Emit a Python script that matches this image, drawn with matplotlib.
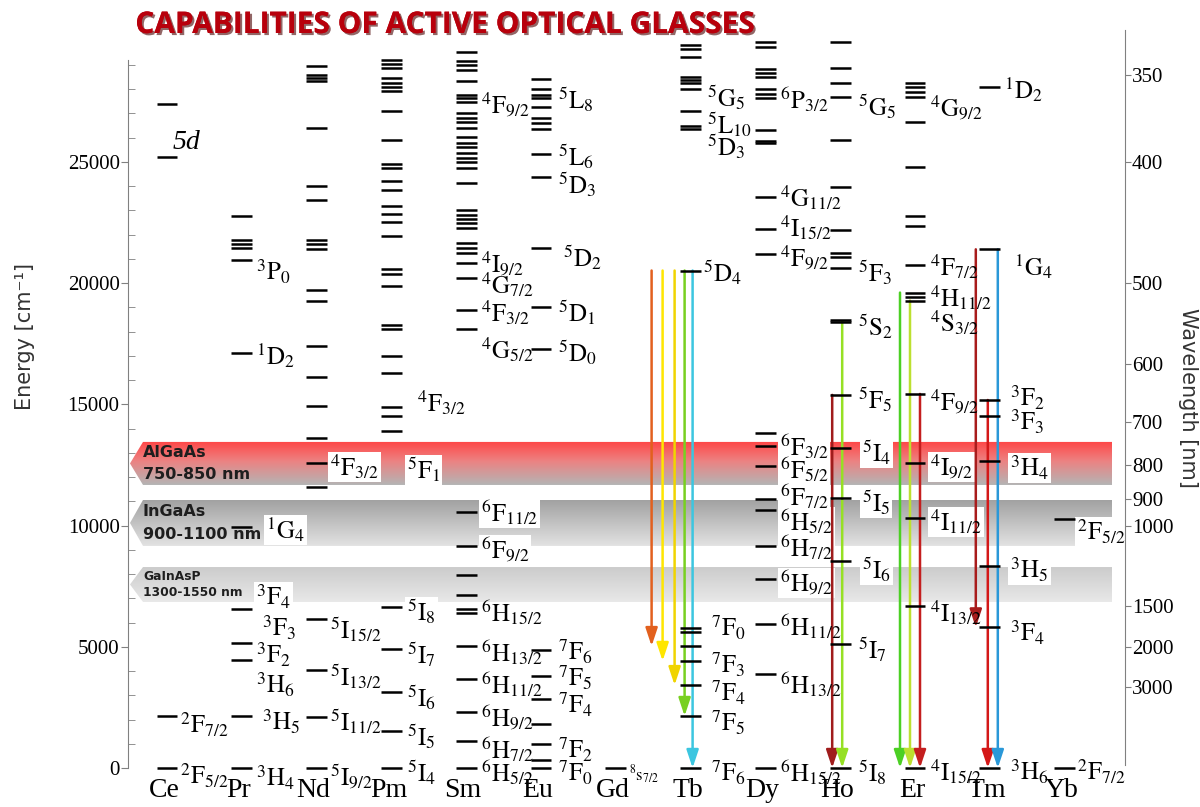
import numpy as np
import matplotlib.pyplot as plt
from matplotlib.patches import Polygon, Rectangle
import matplotlib.patheffects as pe

plt.rcParams['mathtext.fontset'] = 'stix'
plt.rcParams['font.family'] = ['Liberation Serif', 'DejaVu Serif']

elements = ['Ce', 'Pr', 'Nd', 'Pm', 'Sm', 'Eu', 'Gd', 'Tb', 'Dy', 'Ho', 'Er', 'Tm', 'Yb']

# energy levels in cm-1
ce_levels = [0, 2150, 25200, 27400]
pr_levels = [0, 2145, 4455, 5160, 6560, 9940, 17120, 20955, 21450, 21615, 21780, 22770]
nd_levels = [0, 2120, 4040, 6140, 11600, 12570, 13625, 14930, 16140, 17420, 19280, 19700,
             21410, 21615, 21800, 23430, 23990, 26420, 28340, 28460, 28590, 28960]
pm_levels = [0, 1530, 3135, 4910, 6640, 13910, 14530, 14880, 16280, 17010, 18110, 18290,
             19870, 20380, 20580, 21960, 22510, 22850, 23170, 23840, 24230, 24740, 24915,
             25920, 27110, 27910, 28080, 28260, 28450, 28860, 29040, 29220]
sm_levels = [0, 1110, 2320, 3660, 5030, 6390, 6560, 7140, 7960, 9160, 10570, 18090, 18910,
             20200, 20820, 21260, 21440, 21640, 22260, 22470, 22630, 22810, 23020, 24140,
             24740, 25010, 25180, 25360, 25620, 25790, 26040, 26410, 26660, 26800, 27010,
             27485, 27625, 27760, 28350, 28790, 29000, 29180, 29550]
eu_levels = [0, 330, 990, 1800, 2830, 3795, 4870, 17285, 19030, 21460, 24370, 25315, 26350,
             26620, 26800, 27255, 27625, 27780, 27990, 28410]
gd_levels = [0]
tb_levels = [0, 2145, 3420, 4415, 5030, 5610, 5760, 20520, 26350, 26480, 27110, 28000, 28240,
             28380, 28490, 29340, 29650, 29820]
dy_levels = [0, 3880, 5940, 7780, 9170, 10640, 11095, 12470, 13295, 13810, 21200, 22220,
             23540, 25795, 25880, 26320, 27625, 27800, 27995, 28490, 28680, 28820, 29750, 29960]
ho_levels = [0, 5100, 8550, 11150, 13210, 15390, 18380, 18480, 20610, 21080, 21245, 22190,
             23970, 25885, 27680, 28245, 28860, 29960]
er_levels = [0, 6680, 10300, 12590, 15430, 19280, 19445, 19610, 20750, 22360, 22770, 24780,
             26640, 27690, 27900, 28080, 28240]
tm_levels = [0, 5800, 8330, 12675, 14520, 15180, 21395, 28080]
yb_levels = [0, 10260]
levels = [ce_levels, pr_levels, nd_levels, pm_levels, sm_levels, eu_levels, gd_levels,
          tb_levels, dy_levels, ho_levels, er_levels, tm_levels, yb_levels]

# term labels: (multiplicity + letter + J, energy where the label sits)
ce_terms = [('2F7/2', 1770), ('2F5/2', -330)]
pr_terms = [('3P0', 20460), ('1D2', 16995), ('1G4', 9820), ('3F4', 7050), ('3F3', 5775),
            ('3F2', 4660), ('3H6', 3425), ('3H5', 1900), ('3H4', -410)]
nd_terms = [('4F3/2', 12420), ('5I15/2', 5690), ('5I13/2', 3750), ('5I11/2', 1900),
            ('5I9/2', -370)]
pm_terms = [('4F3/2', 15060), ('5F1', 12290), ('5I8', 6435), ('5I7', 4660), ('5I6', 2890),
            ('5I5', 1280), ('5I4', -200)]
sm_terms = [('4F9/2', 27350), ('4I9/2', 20780), ('4G7/2', 19920), ('4F3/2', 18770),
            ('4G5/2', 17240), ('6F11/2', 10520), ('6F9/2', 8990), ('6H15/2', 6390),
            ('6H13/2', 4740), ('6H11/2', 3420), ('6H9/2', 2060), ('6H7/2', 740),
            ('6H5/2', -210)]
eu_terms = [('5L8', 27555), ('5L6', 25200), ('5D3', 24050), ('5D2', 21040), ('5D1', 18770),
            ('5D0', 17120), ('7F6', 4785), ('7F5', 3710), ('7F4', 2600), ('7F2', 740),
            ('7F0', -210)]
gd_terms = [('8s7/2', -290)]
tb_terms = [('5G5', 27640), ('5L10', 26520), ('5D3', 25615), ('5D4', 20420), ('7F0', 5775),
            ('7F3', 4250), ('7F4', 3090), ('7F5', 1855), ('7F6', -210)]
dy_terms = [('6P3/2', 27555), ('4G11/2', 23510), ('4I15/2', 22275), ('4F9/2', 21040),
            ('6F3/2', 13240), ('6F5/2', 12290), ('6F7/2', 11180), ('6H5/2', 10150),
            ('6H7/2', 9075), ('6H9/2', 7630), ('6H11/2', 5815), ('6H13/2', 3420),
            ('6H15/2', -210)]
ho_terms = [('5G5', 27270), ('5F3', 20420), ('5S2', 18190), ('5F5', 15180), ('5I4', 12990),
            ('5I5', 10930), ('5I6', 8170), ('5I7', 4870), ('5I8', -210)]
er_terms = [('4G9/2', 27225), ('4F7/2', 20670), ('4H11/2', 19390), ('4S3/2', 18355),
            ('4F9/2', 15100), ('4I9/2', 12420), ('4I11/2', 10150), ('4I13/2', 6390),
            ('4I15/2', -170)]
tm_terms = [('1D2', 27970), ('1G4', 20670), ('3F2', 15260), ('3F3', 14270), ('3H4', 12375),
            ('3H5', 8170), ('3F4', 5570), ('3H6', -170)]
yb_terms = [('2F5/2', 9735), ('2F7/2', -170)]
terms = [ce_terms, pr_terms, nd_terms, pm_terms, sm_terms, eu_terms, gd_terms, tb_terms,
         dy_terms, ho_terms, er_terms, tm_terms, yb_terms]

# emission transitions drawn as arrows
trans_elem = ['Tb', 'Tb', 'Tb', 'Tb', 'Tb', 'Ho', 'Ho', 'Er', 'Er', 'Er', 'Tm', 'Tm', 'Tm']
trans_upper = [20520, 20520, 20520, 20520, 20520, 15390, 18430, 19610, 19280, 15430,
               21395, 15180, 21395]
trans_lower = [5030, 4415, 3420, 2145, 0, 0, 0, 0, 0, 0, 5800, 0, 0]

# laser diode bands
band_names = ['AlGaAs', 'InGaAs', 'GaInAsP']
band_ranges = ['750-850 nm', '900-1100 nm', '1300-1550 nm']
band_top = [13450, 11055, 8290]
band_bottom = [11675, 9160, 6850]

wl_ticks = [350, 400, 500, 600, 700, 800, 900, 1000, 1500, 2000, 3000]

# ---- style ----
PX = 74.8          # pixels per element column
HALF = 0.14        # half width of a level line
trans_colors = ['#e2601e', '#ffe600', '#f0d400', '#78d020', '#3cc6e0',
                '#a01c1c', '#96e024', '#4cd024', '#bce030', '#c41e1e',
                '#a81c1c', '#d41818', '#2a98d8']
trans_dx = [-39, -28, -16, -6, 2, -8, 2, -15, -5, 5, -14, -2, 8]
label_gap = [3, 4, 3, 5, 4, 7, 3, 6, 4, 7, 5, 10, 2]
label_extra = {(1, '1G4'): 10, (1, '3F3'): 6, (1, '3H5'): 6, (3, '4F3/2'): 10,
               (5, '5D2'): 5, (7, '5D4'): -4, (7, '7F0'): 4, (7, '7F3'): 4, (7, '7F4'): 4,
               (7, '7F5'): 4, (7, '7F6'): 4, (9, '5I4'): 4, (9, '5I5'): 4, (9, '5I6'): 4,
               (11, '1D2'): -6, (11, '1G4'): 4}
band_stops = [[(0.0, '#ff4646'), (0.45, '#ec8282'), (1.0, '#b4b4b4')],
              [(0.0, '#a2a2a2'), (1.0, '#e2e2e2')],
              [(0.0, '#cccccc'), (1.0, '#e8e8e8')]]


def term(code):
    return r'$^{%s}\mathrm{%s}_{%s}$' % (code[0], code[1], code[2:])


def gradient(stops, n=64):
    from matplotlib.colors import to_rgb
    pos = [s[0] for s in stops]
    cols = np.array([to_rgb(s[1]) for s in stops])
    t = np.linspace(0, 1, n)
    rgb = np.stack([np.interp(t, pos, cols[:, k]) for k in range(3)], axis=1)
    return rgb[:, None, :]


fig = plt.figure(figsize=(12, 8.07), dpi=100)
ax = fig.add_axes([128 / 1200, 0, 997 / 1200, 777 / 807])
xlim = (-39 / PX, (1125 - 167) / PX)
ylim = (-1609, 30442)

# bands
x_tip, x_corner, x_end = -37 / PX, -24 / PX, (1112 - 167) / PX
for k in range(len(band_names)):
    top, bot = band_top[k], band_bottom[k]
    pts = [(x_tip, (top + bot) / 2), (x_corner, top), (x_end, top), (x_end, bot), (x_corner, bot)]
    poly = Polygon(pts, closed=True, facecolor='none', edgecolor='none')
    ax.add_patch(poly)
    im = ax.imshow(gradient(band_stops[k]), extent=(x_tip, x_end, bot, top), aspect='auto',
                   origin='upper', zorder=1, interpolation='bilinear')
    im.set_clip_path(poly)
    small = k == 2
    fs = 8.8 if small else 11.5
    dy = 0.27 if small else 0.25
    h = top - bot
    ax.text(x_corner, top - h * dy, band_names[k], fontsize=fs, family='DejaVu Sans',
            weight='bold', color='#1e1e1e', ha='left', va='center', zorder=2)
    ax.text(x_corner, top - h * (1 - dy), band_ranges[k], fontsize=fs, family='DejaVu Sans',
            weight='bold', color='#1e1e1e', ha='left', va='center', zorder=2)

# arrows
for k in range(len(trans_elem)):
    x = elements.index(trans_elem[k]) + trans_dx[k] / PX
    ax.annotate('', xy=(x, trans_lower[k]), xytext=(x, trans_upper[k]),
                arrowprops=dict(arrowstyle='-|>,head_length=0.6,head_width=0.2',
                                color=trans_colors[k], lw=1.8, mutation_scale=18,
                                shrinkA=0, shrinkB=0), zorder=4)

ax.set_xlim(*xlim)
ax.set_ylim(*ylim)

# levels and labels
boxed = []
for i, lev in enumerate(levels):
    ax.hlines(lev, i - HALF, i + HALF, color='black', lw=1.8, zorder=5)
    for code, e in terms[i]:
        gap = label_gap[i] + label_extra.get((i, code), 0)
        x = i + HALF + gap / PX
        fs = 12 if i == 6 else 18
        t = ax.text(x, e, term(code), fontsize=fs, ha='left', va='center', zorder=6)
        if any(e - 450 < tp and e + 450 > bt for tp, bt in zip(band_top, band_bottom)):
            boxed.append(t)
    ax.text(i - 0.04, -910, elements[i], fontsize=20, ha='center', va='center')

ax.text(6 / PX, 25820, '5d', fontsize=20, style='italic', ha='left', va='center')

# white boxes behind labels that sit on a band
fig.canvas.draw()
renderer = fig.canvas.get_renderer()
inv = ax.transData.inverted()
for t in boxed:
    bb = t.get_window_extent(renderer).expanded(1.0, 1.0)
    (x0, y0), (x1, y1) = inv.transform([[bb.x0 - 2, bb.y0 - 1], [bb.x1 + 2, bb.y1 + 1]])
    ax.add_patch(Rectangle((x0, y0), x1 - x0, y1 - y0, facecolor='white', edgecolor='none',
                           zorder=3))

# left axis
ax.set_xticks([])
for s in ['top', 'bottom', 'right']:
    ax.spines[s].set_visible(False)
ax.spines['left'].set_bounds(0, 29200)
ax.spines['left'].set_color('#808080')
ax.set_yticks(np.arange(0, 25001, 5000))
ax.set_yticks([v for v in range(0, 29001, 1000) if v % 5000], minor=True)
ax.tick_params(axis='y', which='major', direction='out', length=5, color='#808080',
               labelsize=15, pad=1)
ax.tick_params(axis='y', which='minor', direction='in', length=5, color='#808080')

# right axis (wavelength)
ax2 = ax.twinx()
ax2.set_ylim(*ylim)
ax2.set_yticks([1e7 / w for w in wl_ticks])
ax2.set_yticklabels([str(w) for w in wl_ticks])
for s in ['top', 'bottom', 'left']:
    ax2.spines[s].set_visible(False)
ax2.spines['right'].set_bounds(120, 30440)
ax2.spines['right'].set_color('#808080')
ax2.tick_params(axis='y', direction='out', length=4, color='#808080', labelsize=15, pad=1)
for lab in ax.get_yticklabels() + ax2.get_yticklabels():
    lab.set_family('Liberation Serif')

fig.text(25 / 1200, 1 - 336 / 807, 'Energy [cm⁻¹]', rotation=90, ha='center', va='center',
         family='DejaVu Sans', fontsize=15, color='#333333')
fig.text(1188 / 1200, 1 - 398 / 807, 'Wavelength [nm]', rotation=270, ha='center',
         va='center', family='DejaVu Sans', fontsize=15, color='#333333')

fig.text(445 / 1200, 1 - 25 / 807, 'CAPABILITIES OF ACTIVE OPTICAL GLASSES', ha='center',
         va='center', family='Open Sans', weight='bold', fontsize=21.5, color='#b8000c',
         path_effects=[pe.withSimplePatchShadow(offset=(1.5, -1.5), shadow_rgbFace='#4a0000',
                                                alpha=0.6), pe.Normal()])

fig.savefig('out.png', dpi=100)
